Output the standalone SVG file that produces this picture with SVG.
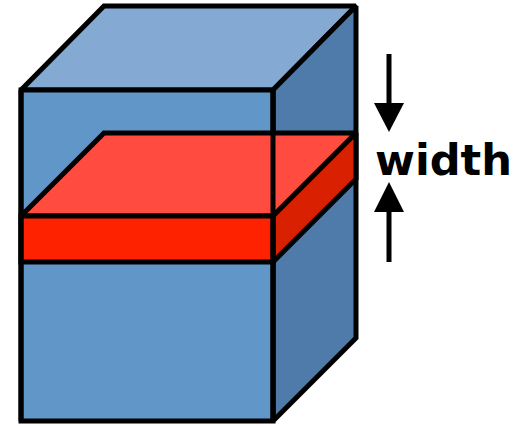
<svg xmlns="http://www.w3.org/2000/svg" width="520" height="426" viewBox="0 0 520 426">
<style>
.e{stroke:#000;stroke-width:5;stroke-linejoin:miter;stroke-miterlimit:2}
.shaft{stroke:#000;stroke-width:5}
.head{fill:#000}
.lbl{font-family:"DejaVu Sans","Liberation Sans",sans-serif;font-weight:bold;font-size:42px;fill:#000}
</style>
<g id="cube">
<polygon class="e" points="104,6 356,6 273,90 21,90" fill="#84A9D3"/>
<polygon class="e" points="356,6 356,338 273,421 273,90" fill="#4F7BAA"/>
<rect class="e" x="21" y="90" width="252" height="331" fill="#6097C8"/>
</g>
<g id="slab">
<polygon class="e" points="104,133 356,133 273,216 21,216" fill="#FF4B40"/>
<polygon class="e" points="356,133 356,179 273,262 273,216" fill="#D92000"/>
<rect class="e" x="21" y="216" width="252" height="46" fill="#FF2200"/>
<line class="shaft" x1="273" y1="90" x2="273" y2="421"/>
<line class="shaft" x1="21" y1="90" x2="21" y2="421"/>
</g>
<g id="connectors">
<line class="shaft" x1="389" y1="54" x2="389" y2="106"/>
<polygon class="head" points="374,103 404,103 389,132"/>
<line class="shaft" x1="389" y1="209" x2="389" y2="262"/>
<polygon class="head" points="374,212 404,212 389,182"/>
</g>
<g id="label">
<text class="lbl" x="375" y="175" textLength="137" lengthAdjust="spacingAndGlyphs">width</text>
</g>
</svg>
